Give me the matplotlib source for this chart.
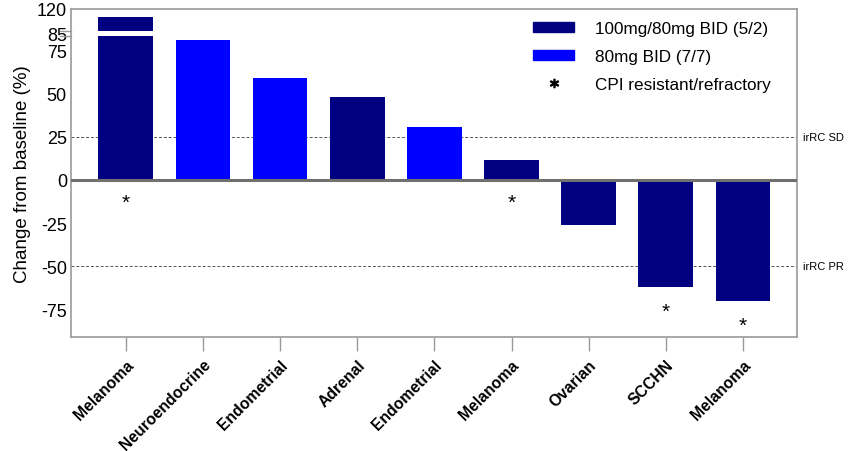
import matplotlib
matplotlib.use("Agg")
from matplotlib import pyplot as plt
from matplotlib.patches import Patch
from matplotlib.lines import Line2D
import numpy as np

plt.rcParams['font.family'] = ['Liberation Sans', 'DejaVu Sans']

tumours = ['Melanoma', 'Neuroendocrine', 'Endometrial', 'Adrenal', 'Endometrial',
           'Melanoma', 'Ovarian', 'SCCHN', 'Melanoma']
change = [108, 81, 59, 48, 30.5, 11.5, -26, -62, -70]
cohort = ['100/80', '80', '80', '100/80', '80', '100/80', '100/80', '100/80', '100/80']
cpi_refractory = [True, False, False, False, False, True, False, True, True]
yticks = [-75, -50, -25, 0, 25, 50, 75, 85, 120]

colours = {'100/80': '#000080', '80': '#0000FF'}

# broken axis: above 85 the scale gets squeezed
brk = 85
squeeze = 0.4
gap_lo, gap_hi = 83.5, 88.5

def fwd(y):
    y = np.asarray(y, dtype=float)
    return np.where(y <= brk, y, brk + (y - brk) * squeeze)

def inv(y):
    y = np.asarray(y, dtype=float)
    return np.where(y <= brk, y, brk + (y - brk) / squeeze)

fig = plt.figure(figsize=(8.56, 4.52), dpi=100)
ax = fig.add_axes([0.083, 0.252, 0.848, 0.726])
ax.set_yscale('function', functions=(fwd, inv))

x = np.arange(len(tumours))
for xi, v, c in zip(x, change, cohort):
    col = colours[c]
    if v > gap_hi:
        ax.bar(xi, gap_lo, width=0.71, color=col, zorder=2)
        ax.bar(xi, v - gap_hi, bottom=gap_hi, width=0.71, color=col, zorder=2)
    else:
        ax.bar(xi, v, width=0.71, color=col, zorder=2)

# asterisks for CPI resistant / refractory
for xi, v, flag in zip(x, change, cpi_refractory):
    if flag:
        ypos = -13 if v > 0 else v - 14
        ax.text(xi, ypos, '*', ha='center', va='center', fontsize=15, zorder=3)

ax.axhline(0, color='#707070', lw=2.2, zorder=3)
for lvl in (25, -50):
    ax.axhline(lvl, color='#555555', lw=0.7, ls=(0, (3, 2)), zorder=1)
ax.text(1.008, 25, 'irRC SD', transform=ax.get_yaxis_transform(), va='center', fontsize=8)
ax.text(1.008, -50, 'irRC PR', transform=ax.get_yaxis_transform(), va='center', fontsize=8)

ax.set_xlim(-0.71, 8.70)
ax.set_ylim(-91, 120)
ax.set_yticks(yticks)
ax.set_yticklabels([str(t) for t in yticks], fontsize=13)
ax.tick_params(axis='y', length=0, pad=3)
ax.set_xticks(x)
ax.set_xticklabels(tumours, rotation=45, ha='right', rotation_mode='anchor',
                   fontsize=11.3, fontweight='bold')
ax.tick_params(axis='x', length=10, color='#999999', width=1, pad=4)
for s in ax.spines.values():
    s.set_color('#999999')
    s.set_linewidth(1.2)

# break marks on the left spine
for yb in (gap_lo, gap_hi):
    ax.plot([-0.85, -0.71], [yb, yb], color='#999999', lw=1, clip_on=False)

ax.set_ylabel('Change from baseline (%)', fontsize=13.5, labelpad=4)

handles = [Patch(color=colours['100/80']), Patch(color=colours['80']),
           Line2D([], [], ls='none', marker='$*$', color='black', markersize=6)]
labels = ['100mg/80mg BID (5/2)', '80mg BID (7/7)', 'CPI resistant/refractory']
ax.legend(handles, labels, loc='upper right', frameon=False, fontsize=12.3,
          handlelength=2.4, handleheight=0.55, handletextpad=1.2,
          borderaxespad=0.4, borderpad=0.3, labelspacing=0.75,
          bbox_to_anchor=(0.98, 1.0))

fig.savefig('out.png', dpi=100)
